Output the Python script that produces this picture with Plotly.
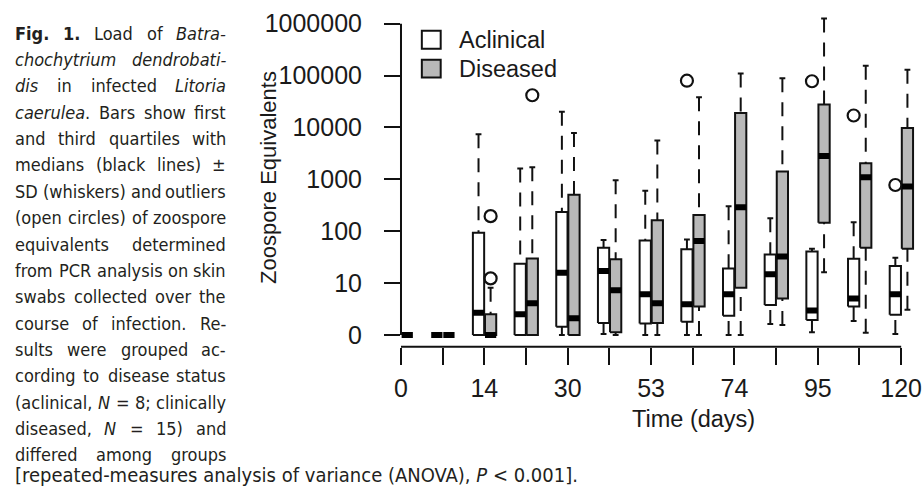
import re
import plotly.graph_objects as go

W, H = 924, 490

# ---------------- data (values in log10 units of zoospore equivalents) ----------------
time_labels = ["0", "", "14", "", "30", "", "53", "", "74", "", "95", "", "120"]
positions = list(range(len(time_labels)))

ytick_vals = [0, 1, 2, 3, 4, 5, 6]
ytick_text = ["0", "10", "100", "1000", "10000", "100000", "1000000"]

acl_lo  = [None, 0, 0, 0, 0, 0.02, 0, 0, 0, 0.21, 0.05, 0.27, 0.02]
acl_q1  = [None, 0, 0, 0, 0.16, 0.23, 0.22, 0.255, 0.37, 0.575, 0.29, 0.55, 0.39]
acl_med = [None, 0, 0.43, 0.40, 1.20, 1.23, 0.785, 0.59, 0.785, 1.17, 0.47, 0.70, 0.785]
acl_q3  = [None, 0, 1.97, 1.37, 2.37, 1.68, 1.82, 1.65, 1.28, 1.55, 1.61, 1.47, 1.33]
acl_hi  = [None, 0, 3.87, 3.21, 4.30, 1.83, 2.78, 1.84, 2.48, 2.25, 1.66, 2.17, 1.49]
acl_out_pos = [7, 10, 11, 12]
acl_out_val = [4.90, 4.89, 4.23, 2.89]

dis_lo  = [0, 0, 0, 0, 0, 0, 0, 0, 0, 0.19, 1.21, 0.04, 0.485]
dis_q1  = [0, 0, 0, 0, 0, 0.05, 0.23, 0.55, 0.91, 0.70, 2.16, 1.68, 1.66]
dis_med = [0, 0, 0, 0.61, 0.32, 0.86, 0.61, 1.81, 2.46, 1.51, 3.45, 3.04, 2.86]
dis_q3  = [0, 0, 0.40, 1.475, 2.70, 1.46, 2.21, 2.31, 4.28, 3.15, 4.44, 3.31, 3.99]
dis_hi  = [0, 0, 0.91, 3.23, 3.89, 2.98, 3.75, 4.58, 5.04, 4.95, 6.10, 5.19, 5.11]
dis_out_pos = [2, 2, 3]
dis_out_val = [1.09, 2.29, 4.62]

series_names = ["Aclinical", "Diseased"]
series_fill = ["#ffffff", "#b9b9b9"]

caption_lines = [
    (["<b>Fig.</b>", "<b>1.</b>", "Load", "of", "<i>Batra-</i>"], True),
    (["<i>chochytrium</i>", "<i>dendrobati-</i>"], True),
    (["<i>dis</i>", "in", "infected", "<i>Litoria</i>"], True),
    (["<i>caerulea</i>.", "Bars", "show", "first"], True),
    (["and", "third", "quartiles", "with"], True),
    (["medians", "(black", "lines)", "±"], True),
    (["SD", "(whiskers)", "and", "outliers"], True),
    (["(open", "circles)", "of", "zoospore"], True),
    (["equivalents", "determined"], True),
    (["from", "PCR", "analysis", "on", "skin"], True),
    (["swabs", "collected", "over", "the"], True),
    (["course", "of", "infection.", "Re-"], True),
    (["sults", "were", "grouped", "ac-"], True),
    (["cording", "to", "disease", "status"], True),
    (["(aclinical,", "<i>N</i>", "=", "8;", "clinically"], True),
    (["diseased,", "<i>N</i>", "=", "15)", "and"], True),
    (["differed", "among", "groups"], True),
    (["[repeated-measures analysis of variance (ANOVA), <i>P</i> < 0.001]."], False),
]

# ---------------- geometry ----------------
XR = [0, 12.5]
YR = [-0.23, 6.245]
XD = [397 / W, 922 / W]
YD = [(H - 348) / H, (H - 10) / H]

def xp(v):
    return XD[0] + (v - XR[0]) / (XR[1] - XR[0]) * (XD[1] - XD[0])

def yp(v):
    return YD[0] + (v - YR[0]) / (YR[1] - YR[0]) * (YD[1] - YD[0])

OFFS = [-0.14, 0.15]
HW = 0.135
CAP = 0.07

fig = go.Figure()

groups = [
    (acl_lo, acl_q1, acl_med, acl_q3, acl_hi, acl_out_pos, acl_out_val),
    (dis_lo, dis_q1, dis_med, dis_q3, dis_hi, dis_out_pos, dis_out_val),
]

for g, (lo, q1, med, q3, hi, opos, oval) in enumerate(groups):
    bx, by, mx, my, wx, wy, cx, cy = [], [], [], [], [], [], [], []
    for p, a, b, m, c, d in zip(positions, lo, q1, med, q3, hi):
        if m is None:
            continue
        xc = p + OFFS[g]
        x0, x1 = xc - HW, xc + HW
        if c > b:
            bx += [x0, x1, x1, x0, x0, None]
            by += [b, b, c, c, b, None]
        mx += [x0, x1, None]
        my += [m, m, None]
        if d > c:
            wx += [xc, xc, None]
            wy += [d, c, None]
            cx += [xc - CAP, xc + CAP, None]
            cy += [d, d, None]
        if b > a:
            wx += [xc, xc, None]
            wy += [a, b, None]
            cx += [xc - CAP, xc + CAP, None]
            cy += [a, a, None]
    fig.add_trace(go.Scatter(x=wx, y=wy, mode="lines",
                             line=dict(color="#111", width=2, dash="14px,10px"),
                             hoverinfo="skip", showlegend=False))
    fig.add_trace(go.Scatter(x=cx, y=cy, mode="lines",
                             line=dict(color="#111", width=2),
                             hoverinfo="skip", showlegend=False))
    fig.add_trace(go.Scatter(x=bx, y=by, mode="lines", fill="toself",
                             fillcolor=series_fill[g],
                             line=dict(color="#111", width=2),
                             name=series_names[g], showlegend=False))
    fig.add_trace(go.Scatter(x=mx, y=my, mode="lines",
                             line=dict(color="#000", width=6),
                             hoverinfo="skip", showlegend=False))
    fig.add_trace(go.Scatter(x=[p + OFFS[g] for p in opos], y=oval, mode="markers",
                             marker=dict(symbol="circle-open", size=12, color="#111",
                                         line=dict(width=2.2, color="#111")),
                             hoverinfo="skip", showlegend=False))

AX_FONT = dict(family="Liberation Sans, Arial, sans-serif", size=25, color="#1a1a1a")
TXT_FONT = dict(family="Liberation Sans, Arial, sans-serif", size=23.5, color="#1a1a1a")

fig.update_xaxes(domain=XD, range=XR, tickvals=positions, ticktext=time_labels,
                 ticks="outside", ticklen=17, tickwidth=2, tickcolor="#111",
                 showline=False, showgrid=False, zeroline=False,
                 tickfont=AX_FONT, ticklabelstandoff=2)
fig.update_yaxes(domain=YD, range=YR, tickvals=ytick_vals, ticktext=ytick_text,
                 ticks="outside", ticklen=16, tickwidth=2, tickcolor="#111",
                 showline=False, showgrid=False, zeroline=False,
                 tickfont=AX_FONT, ticklabelstandoff=17)

shapes = [
    dict(type="line", xref="paper", yref="paper", x0=xp(0), x1=xp(0),
         y0=yp(ytick_vals[0]), y1=yp(ytick_vals[-1]), line=dict(color="#111", width=2)),
    dict(type="line", xref="paper", yref="paper", x0=xp(positions[0]), x1=xp(positions[-1]),
         y0=yp(YR[0]), y1=yp(YR[0]), line=dict(color="#111", width=2)),
]
# legend
leg_y = [39, 68]
for k in range(2):
    shapes.append(dict(type="rect", xref="paper", yref="paper",
                       x0=418 / W, x1=437 / W,
                       y0=1 - (leg_y[k] + 9) / H, y1=1 - (leg_y[k] - 9) / H,
                       fillcolor=series_fill[k], line=dict(color="#111", width=2)))

annotations = []
for k in range(2):
    annotations.append(dict(text=series_names[k], xref="paper", yref="paper",
                            x=453 / W, y=1 - leg_y[k] / H, xanchor="left", yanchor="middle",
                            showarrow=False, font=TXT_FONT))

annotations.append(dict(text="Time (days)", xref="paper", yref="paper",
                        x=692 / W, y=1 - 421 / H, xanchor="center", yanchor="middle",
                        showarrow=False, font=TXT_FONT))
annotations.append(dict(text="Zoospore Equivalents", xref="paper", yref="paper",
                        x=264 / W, y=1 - 178 / H, xanchor="center", yanchor="middle",
                        textangle=-90, showarrow=False, font=dict(TXT_FONT, size=22)))

# caption (DejaVu Sans Condensed widths, em)
CAP_SIZE = 18
LAST_SIZE = 20
CAP_FONT = dict(family="DejaVu Sans Condensed, DejaVu Sans, sans-serif",
                size=CAP_SIZE, color="#231f20")
L, R = 8, 221
COND = 0.9
WID = dict(a=.613, b=.635, c=.550, d=.635, e=.615, f=.352, g=.635, h=.634, i=.278, j=.278,
           k=.579, l=.278, m=.974, n=.634, o=.612, p=.635, q=.635, r=.411, s=.521, t=.392,
           u=.634, v=.592, w=.818, x=.592, y=.592, z=.525,
           A=.684, B=.686, C=.698, D=.770, E=.632, F=.575, N=.748, O=.787, P=.603, R=.695,
           S=.635, V=.684, L=.557)
WID.update({" ": .318, ".": .318, ",": .318, ";": .337, ":": .337, "-": .361, "(": .390,
            ")": .390, "[": .390, "]": .390, "=": .838, "<": .838, "±": .838})
BOLD = {"F": .683, "i": .343, "g": .716, ".": .380, "1": .696}

def est(word):
    bold = "<b>" in word
    s = re.sub(r"<[^>]+>", "", word)
    w = 0.0
    for ch in s:
        if bold and ch in BOLD:
            w += BOLD[ch]
        elif ch.isdigit():
            w += .636
        else:
            w += WID.get(ch, .62)
    return w * CAP_SIZE * COND

def cap_ann(text, x, y, anchor, size):
    return dict(text=text, xref="paper", yref="paper", x=x / W, y=y,
                xanchor=anchor, yanchor="middle", showarrow=False,
                borderpad=0, borderwidth=0, font=dict(CAP_FONT, size=size))

n_lines = len(caption_lines)
for k, (words, justify) in enumerate(caption_lines):
    ypix = 32.5 + 26.5 * k if k < n_lines - 1 else 477
    yy = 1 - ypix / H
    if not justify:
        annotations.append(cap_ann(" ".join(words), L, yy, "left", LAST_SIZE))
        continue
    widths = [est(w) for w in words]
    gap = max((R - L - sum(widths)) / (len(words) - 1), 0.25 * CAP_SIZE * COND)
    x = L
    for j, w in enumerate(words):
        last = j == len(words) - 1
        annotations.append(cap_ann(w, R if last else x, yy,
                                   "right" if last else "left", CAP_SIZE))
        x += widths[j] + gap

fig.update_layout(width=W, height=H, margin=dict(l=0, r=0, t=0, b=0),
                  paper_bgcolor="white", plot_bgcolor="white",
                  shapes=shapes, annotations=annotations, showlegend=False)

fig.write_html("out.html", config={"displayModeBar": False},
               post_script="document.body.style.margin='0';document.body.style.overflow='hidden';")
